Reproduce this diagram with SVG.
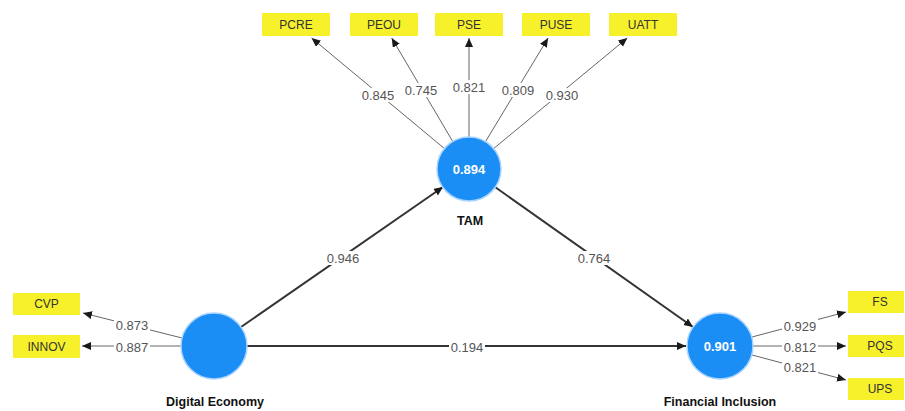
<svg xmlns="http://www.w3.org/2000/svg" width="905" height="411" viewBox="0 0 905 411">
  <defs>
    <style>
      .ind rect { fill: #f7f12c; }
      .ind text { font-family: "Liberation Sans", Arial, sans-serif; font-size: 12px; fill: #333; text-anchor: middle; dominant-baseline: central; }
      .lv circle { fill: #1a8ef5; stroke: #a9d4ff; stroke-width: 1.5; }
      .lv .val { font-family: "Liberation Sans", Arial, sans-serif; font-size: 13px; font-weight: bold; fill: #ffffff; text-anchor: middle; dominant-baseline: central; }
      .lv .name { font-family: "Liberation Sans", Arial, sans-serif; font-size: 12.5px; font-weight: bold; fill: #111; text-anchor: middle; dominant-baseline: central; }
      .outer { stroke: #666; stroke-width: 1; fill: none; marker-end: url(#tip); }
      .inner { stroke: #333; stroke-width: 2; fill: none; marker-end: url(#tip); }
      .lbl rect { fill: #ffffff; }
      .lbl text { font-family: "Liberation Sans", Arial, sans-serif; font-size: 13px; fill: #555; text-anchor: middle; dominant-baseline: central; }
    </style>
    <marker id="tip" markerUnits="userSpaceOnUse" markerWidth="10" markerHeight="10" refX="9" refY="4" orient="auto">
      <path d="M0,0 L9,4 L0,8 Z" fill="#1a1a1a"/>
    </marker>
  </defs>

  <!-- connectors -->
  <g id="connectors">
    <!-- TAM indicators -->
    <line class="outer" x1="444.4" y1="148.5" x2="311.6" y2="38"/>
    <line class="outer" x1="452.7" y1="141.4" x2="391.7" y2="38"/>
    <line class="outer" x1="469" y1="137" x2="469" y2="38"/>
    <line class="outer" x1="485.5" y1="141.6" x2="548.1" y2="38"/>
    <line class="outer" x1="493.6" y1="148.6" x2="627.3" y2="38"/>
    <!-- Digital Economy indicators -->
    <line class="outer" x1="182" y1="338" x2="83" y2="313"/>
    <line class="outer" x1="181" y1="346" x2="82" y2="346"/>
    <!-- Financial Inclusion indicators -->
    <line class="outer" x1="752" y1="337" x2="846" y2="312"/>
    <line class="outer" x1="753" y1="346" x2="846" y2="346"/>
    <line class="outer" x1="752" y1="355" x2="846" y2="380"/>
    <!-- structural paths -->
    <line class="inner" x1="241" y1="327" x2="443" y2="187"/>
    <line class="inner" x1="495" y1="187" x2="693" y2="327"/>
    <line class="inner" x1="247" y1="346" x2="686" y2="346"/>

    <!-- coefficient labels -->
    <g class="lbl">
      <rect x="360" y="88" width="36" height="14"/><text x="378" y="95">0.845</text>
      <rect x="403" y="83" width="36" height="14"/><text x="421" y="90">0.745</text>
      <rect x="451" y="80" width="36" height="14"/><text x="469" y="87">0.821</text>
      <rect x="500" y="83" width="36" height="14"/><text x="518" y="90">0.809</text>
      <rect x="544" y="88" width="36" height="14"/><text x="562" y="95">0.930</text>

      <rect x="114" y="318" width="36" height="14"/><text x="132" y="325">0.873</text>
      <rect x="114" y="340" width="36" height="14"/><text x="132" y="347">0.887</text>

      <rect x="782" y="319" width="36" height="14"/><text x="800" y="326">0.929</text>
      <rect x="782" y="340" width="36" height="14"/><text x="800" y="347">0.812</text>
      <rect x="782" y="360" width="36" height="14"/><text x="800" y="367">0.821</text>

      <rect x="325" y="251" width="36" height="14"/><text x="343" y="258">0.946</text>
      <rect x="576" y="251" width="36" height="14"/><text x="594" y="258">0.764</text>
      <rect x="449" y="340" width="36" height="14"/><text x="467" y="347">0.194</text>
    </g>
  </g>

  <!-- indicators -->
  <g id="PCRE" class="ind"><rect x="262" y="13" width="68" height="23"/><text x="296" y="25">PCRE</text></g>
  <g id="PEOU" class="ind"><rect x="350" y="13" width="68" height="23"/><text x="384" y="25">PEOU</text></g>
  <g id="PSE" class="ind"><rect x="435" y="13" width="68" height="23"/><text x="469" y="25">PSE</text></g>
  <g id="PUSE" class="ind"><rect x="522" y="13" width="68" height="23"/><text x="556" y="25">PUSE</text></g>
  <g id="UATT" class="ind"><rect x="609" y="13" width="68" height="23"/><text x="643" y="25">UATT</text></g>

  <g id="CVP" class="ind"><rect x="13" y="293" width="67" height="22"/><text x="46.5" y="304">CVP</text></g>
  <g id="INNOV" class="ind"><rect x="13" y="335" width="67" height="23"/><text x="46.5" y="346.5">INNOV</text></g>

  <g id="FS" class="ind"><rect x="848" y="291" width="56" height="22"/><text x="880" y="302">FS</text></g>
  <g id="PQS" class="ind"><rect x="848" y="335" width="56" height="22"/><text x="880" y="346">PQS</text></g>
  <g id="UPS" class="ind"><rect x="848" y="378" width="56" height="22"/><text x="880" y="389">UPS</text></g>

  <!-- latent variables -->
  <g id="TAM" class="lv">
    <circle cx="469" cy="169" r="32"/>
    <text class="val" x="469" y="169">0.894</text>
    <text class="name" x="470" y="221">TAM</text>
  </g>
  <g id="DigitalEconomy" class="lv">
    <circle cx="214" cy="346" r="33"/>
    <text class="name" x="215" y="402">Digital Economy</text>
  </g>
  <g id="FinancialInclusion" class="lv">
    <circle cx="720" cy="346" r="33"/>
    <text class="val" x="720" y="346">0.901</text>
    <text class="name" x="720" y="402">Financial Inclusion</text>
  </g>
</svg>
